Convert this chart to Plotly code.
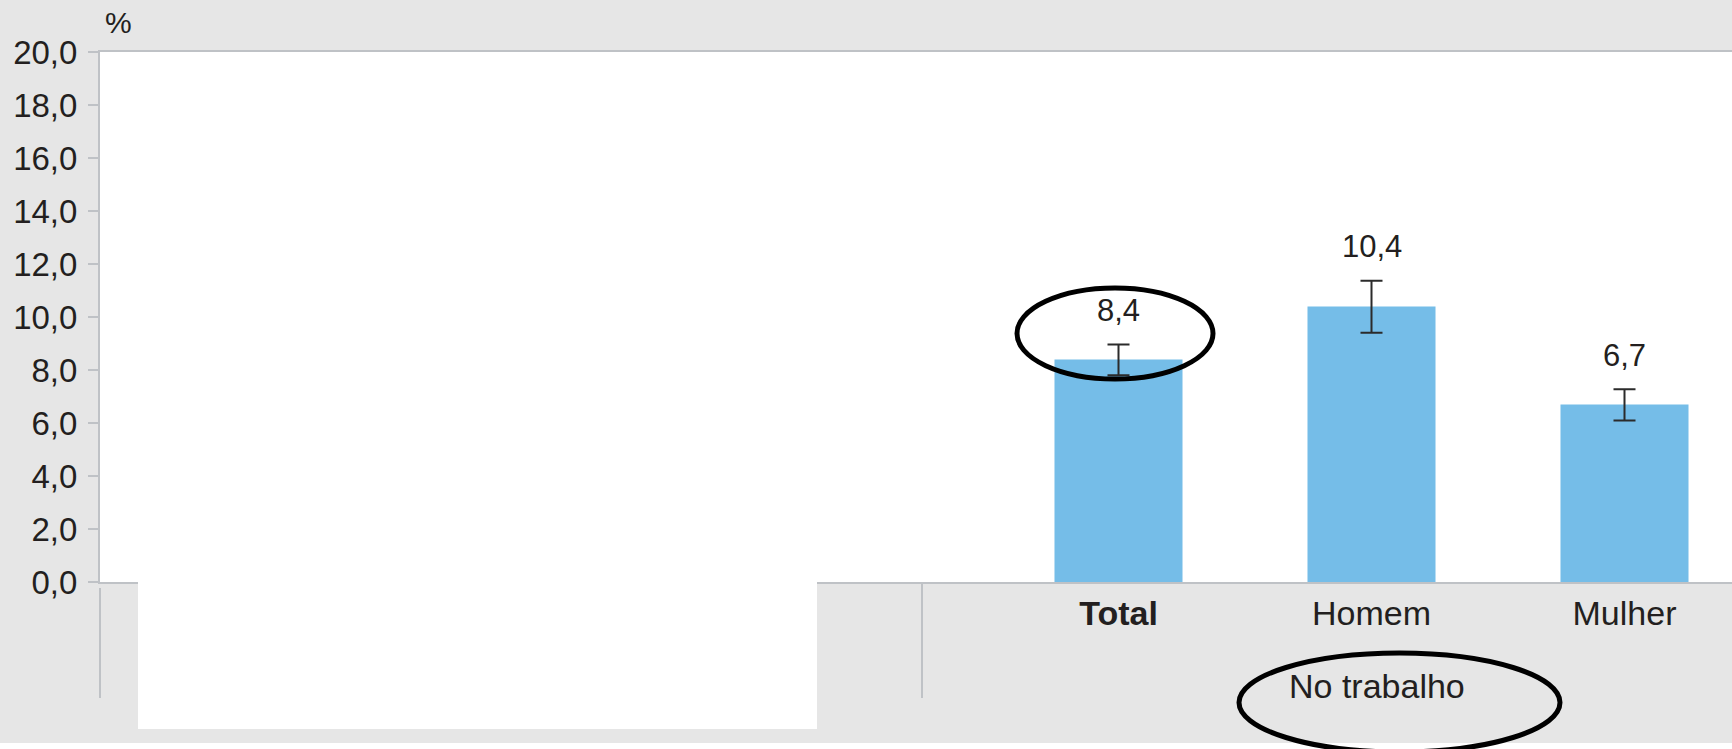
import plotly.graph_objects as go

# ---- data ----
categories = ["Total", "Homem", "Mulher"]
values = [8.4, 10.4, 6.7]
err_plus = [0.56, 0.97, 0.57]
err_minus = [0.60, 0.99, 0.61]
group_label = "No trabalho"
y_ticks = [0, 2, 4, 6, 8, 10, 12, 14, 16, 18, 20]

# ---- layout geometry (pixels) ----
W, H = 1732, 749
ML, MR, MT, MB = 100, 0, 52, 167
PW, PH = W - ML - MR, H - MT - MB
FONT = "Liberation Sans, Arial, Helvetica, sans-serif"
TXT = "#231f20"
GRID = "#bfc2c6"
BG = "#e6e6e6"


def px_x(px):
    return (px - ML) / PW


def px_y(py):
    return (H - MB - py) / PH


fig = go.Figure()
fig.add_trace(go.Bar(
    x=categories,
    y=values,
    width=0.506,
    marker=dict(color="#75bde8", line=dict(width=0)),
    error_y=dict(type="data", symmetric=False, array=err_plus, arrayminus=err_minus,
                 color="#2b2b2b", thickness=2, width=11),
    hoverinfo="skip",
))

ann = []
for c, v, p in zip(categories, values, err_plus):
    ann.append(dict(x=c, y=v + p, xref="x", yref="y", text=f"{v:.1f}".replace(".", ","),
                    showarrow=False, yanchor="middle", yshift=34,
                    font=dict(family=FONT, size=31, color=TXT)))
ann.append(dict(x=categories[1], y=px_y(686), xref="x", yref="paper", text=group_label,
                showarrow=False, yanchor="middle", xshift=5,
                font=dict(family=FONT, size=34, color=TXT)))
ann.append(dict(x=px_x(118), y=px_y(23), xref="paper", yref="paper", text="%",
                showarrow=False, yanchor="middle", xanchor="center",
                font=dict(family=FONT, size=30, color=TXT)))

shapes = [
    # separators in the category band
    dict(type="line", xref="paper", yref="paper", x0=px_x(100), x1=px_x(100),
         y0=px_y(588), y1=px_y(698), line=dict(color=GRID, width=2)),
    dict(type="line", xref="paper", yref="paper", x0=px_x(922), x1=px_x(922),
         y0=px_y(584), y1=px_y(698), line=dict(color=GRID, width=2)),
    # blanked-out region
    dict(type="rect", xref="paper", yref="paper", x0=px_x(138), x1=px_x(817),
         y0=px_y(581), y1=px_y(729), fillcolor="white", line=dict(width=0), layer="above"),
    # white strip at bottom
    dict(type="rect", xref="paper", yref="paper", x0=px_x(0), x1=px_x(W),
         y0=px_y(743), y1=px_y(752), fillcolor="white", line=dict(width=0), layer="above"),
    # hand-drawn highlight ellipses
    dict(type="circle", xref="paper", yref="paper", x0=px_x(1017), x1=px_x(1213),
         y0=px_y(288), y1=px_y(379), line=dict(color="black", width=5), layer="above"),
    dict(type="circle", xref="paper", yref="paper", x0=px_x(1239), x1=px_x(1560),
         y0=px_y(653), y1=px_y(752), line=dict(color="black", width=5), layer="above"),
]

tick_text = ["<b>Total</b>"] + categories[1:]
lo = -(1118.5 - ML) / 253.0
hi = (W - MR - 1118.5) / 253.0

fig.update_layout(
    width=W, height=H,
    margin=dict(l=ML, r=MR, t=MT, b=MB, pad=0),
    paper_bgcolor=BG, plot_bgcolor="white",
    separators=",.",
    showlegend=False,
    annotations=ann,
    shapes=shapes,
    xaxis=dict(type="category", range=[lo, hi], tickvals=categories, ticktext=tick_text,
               showline=True, mirror=True, linecolor=GRID, linewidth=2,
               ticks="", showgrid=False, zeroline=False, ticklabelstandoff=0,
               tickfont=dict(family=FONT, size=34, color=TXT)),
    yaxis=dict(range=[0, 20], tickvals=y_ticks, tickformat=".1f",
               showline=True, linecolor=GRID, linewidth=2,
               ticks="outside", ticklen=10, tickcolor=GRID, tickwidth=2,
               showgrid=False, zeroline=False, ticklabelstandoff=4,
               tickfont=dict(family=FONT, size=33, color=TXT)),
)

fig.write_html(
    "out.html",
    config={"displayModeBar": False},
    post_script="document.body.style.margin='0';document.body.style.overflow='hidden';",
)
